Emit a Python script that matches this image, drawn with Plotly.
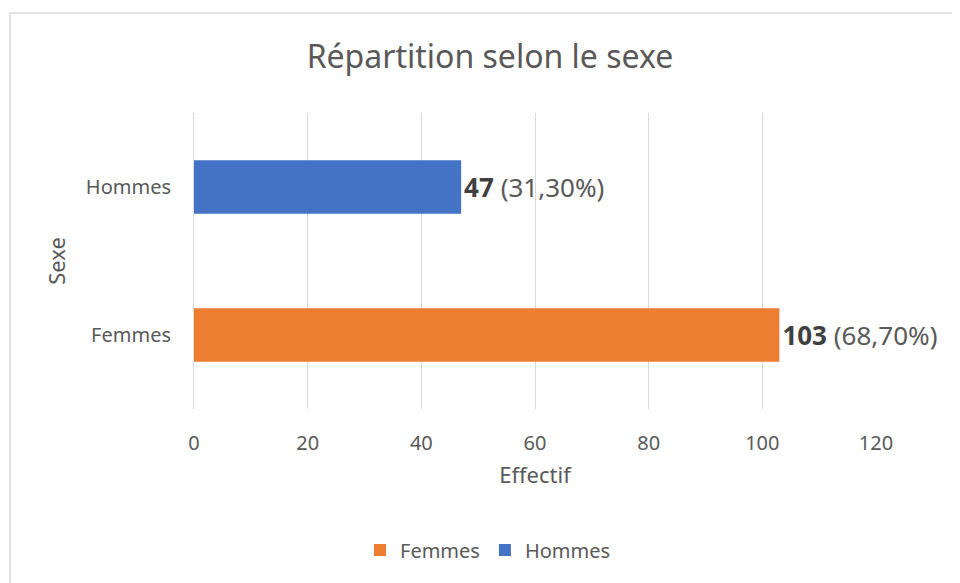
import plotly.graph_objects as go

categories = ["Femmes", "Hommes"]
values = [103, 47]
percents = ["68,70%", "31,30%"]
colors = ["#ED7D31", "#4472C4"]
x_ticks = [0, 20, 40, 60, 80, 100, 120]

FONT = "Noto Sans"
W, H = 960, 583
L, R, T, B = 186, 92, 105, 182
PW, PH = W - L - R, H - T - B

fig = go.Figure()
for cat, v, p, c in zip(categories, values, percents, colors):
    fig.add_trace(go.Bar(
        y=[cat], x=[v], orientation="h", name=cat,
        marker=dict(color=c, line=dict(width=0)),
        width=0.36,
        text=[f"<span style='color:#404040'><b>{v}</b></span> ({p})"],
        textposition="outside",
        textfont=dict(family=FONT, size=26, color="#595959"),
        cliponaxis=False,
    ))

fig.update_layout(
    width=W, height=H,
    barmode="overlay",
    paper_bgcolor="white", plot_bgcolor="white",
    margin=dict(l=L, r=R, t=T, b=B),
    font=dict(family=FONT, color="#595959"),
    title=dict(text="Répartition selon le sexe", xref="container", x=482 / W, xanchor="center",
               yref="container", y=1 - 49 / H, yanchor="middle",
               font=dict(family=FONT, size=32, color="#595959")),
    xaxis=dict(range=[0, 120], tickvals=x_ticks, showgrid=True, gridcolor="#D9D9D9", gridwidth=1,
               zeroline=False, showline=False, ticks="", ticklabelstandoff=20,
               tickfont=dict(family=FONT, size=20, color="#595959"),
               title=dict(text="Effectif", font=dict(family=FONT, size=22, color="#595959"), standoff=12)),
    yaxis=dict(categoryorder="array", categoryarray=categories, showline=True, linecolor="#D9D9D9",
               linewidth=1, showgrid=False, ticks="", ticklabelstandoff=18,
               tickfont=dict(family=FONT, size=20, color="#595959"),
               title=dict(text="Sexe", font=dict(family=FONT, size=22, color="#595959"), standoff=14)),
    legend=dict(orientation="h", xref="container", x=480 / W, xanchor="center",
                yref="container", y=1 - 542 / H, yanchor="middle",
                font=dict(family=FONT, size=20, color="#595959"), itemwidth=30,
                traceorder="normal"),
    shapes=[dict(type="rect", xref="paper", yref="paper",
                 x0=(2 - L) / PW, x1=(W + 20 - L) / PW,
                 y0=-(B + 20) / PH, y1=1 + (T - 5) / PH,
                 line=dict(color="#D9D9D9", width=1.5), fillcolor="rgba(0,0,0,0)", layer="below")],
)

fig.write_html("out.html")
